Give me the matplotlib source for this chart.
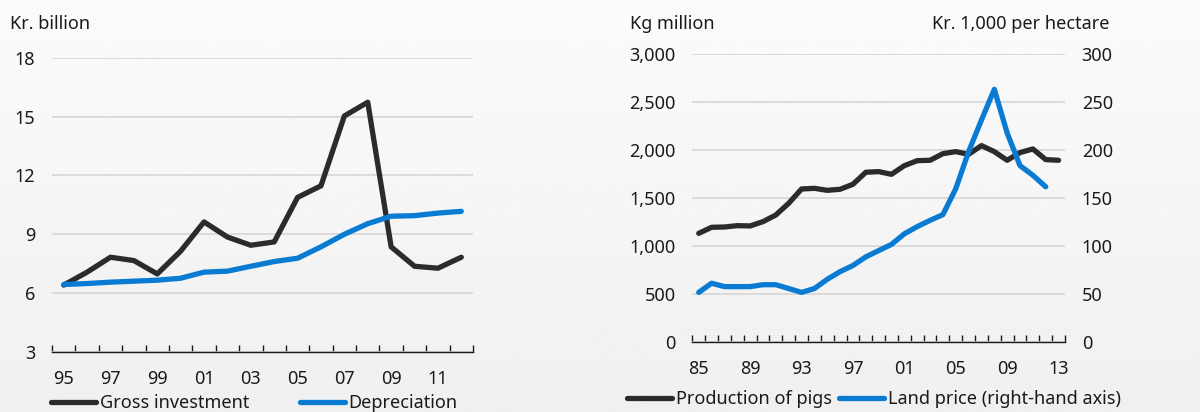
import numpy as np
import matplotlib.pyplot as plt

# data
years_left = list(range(1995, 2013))
gross_investment = [6.41, 7.07, 7.83, 7.66, 6.98, 8.14, 9.63, 8.86, 8.44, 8.61,
                    10.88, 11.47, 15.03, 15.73, 8.36, 7.37, 7.27, 7.83]
depreciation = [6.44, 6.49, 6.56, 6.61, 6.66, 6.76, 7.07, 7.12, 7.37, 7.61,
                7.78, 8.36, 9.0, 9.54, 9.92, 9.95, 10.08, 10.17]

years_right = list(range(1985, 2014))
pig_production = [1135, 1198, 1201, 1215, 1212, 1257, 1326, 1448, 1597, 1604,
                  1583, 1594, 1646, 1771, 1778, 1750, 1840, 1892, 1896, 1965,
                  1986, 1958, 2049, 1986, 1896, 1976, 2014, 1903, 1896]
land_price = [52, 61.5, 58, 58, 58, 60, 60, 56, 52, 56,
              65.6, 73.6, 80, 89, 95.5, 102, 113, 120.5, 127, 133,
              160, 198.6, 231.6, 263.5, 218, 184, 174, 162, np.nan]

plt.rcParams['font.family'] = ['Noto Sans', 'DejaVu Sans']
plt.rcParams['font.size'] = 13
plt.rcParams['text.color'] = '#1a1a1a'
plt.rcParams['xtick.color'] = '#1a1a1a'
plt.rcParams['ytick.color'] = '#1a1a1a'

BLACK = '#2b2b2b'
BLUE = '#0a7bd3'
GRID = '#d6d6d6'
LW = 3.8

fig = plt.figure(figsize=(12, 4.12), dpi=100)

# light grey gradient background
bg = fig.add_axes([0, 0, 1, 1], zorder=-10)
bg.imshow(np.linspace(0.985, 0.94, 200).reshape(-1, 1), cmap='gray',
          vmin=0, vmax=1, aspect='auto', extent=[0, 1, 0, 1])
bg.axis('off')


def style_x(ax, years, step):
    n = len(years)
    x = np.arange(n)
    ax.set_xlim(-0.5, n - 0.5)
    ax.set_xticks(x[::step])
    ax.set_xticklabels([f"{y % 100:02d}" for y in years[::step]])
    ax.set_xticks(np.arange(n + 1) - 0.5, minor=True)
    ax.tick_params(axis='x', which='major', length=0, pad=13)
    ax.tick_params(axis='x', which='minor', direction='in', length=5, width=1, color='#1a1a1a')
    for s in ['top', 'left', 'right']:
        ax.spines[s].set_visible(False)
    ax.spines['bottom'].set_color('#1a1a1a')
    ax.spines['bottom'].set_linewidth(1)
    ax.set_facecolor('none')
    ax.grid(axis='y', color=GRID, linewidth=1.2)
    ax.set_axisbelow(True)


# ---- left chart
ax1 = fig.add_axes([52 / 1200, 1 - 352 / 412, (473 - 52) / 1200, (352 - 57.7) / 412])
xl = np.arange(len(years_left))
ax1.plot(xl, gross_investment, color=BLACK, lw=LW, solid_capstyle='round',
         solid_joinstyle='round', label='Gross investment')
ax1.plot(xl, depreciation, color=BLUE, lw=LW, solid_capstyle='round',
         solid_joinstyle='round', label='Depreciation')
style_x(ax1, years_left, 2)
ax1.set_ylim(3, 18)
ax1.set_yticks(range(3, 19, 3))
ax1.tick_params(axis='y', length=0, pad=12)
fig.text(10 / 1200, 1 - 24 / 412, 'Kr. billion', va='center', ha='left')
fig.legend(*ax1.get_legend_handles_labels(), loc='center left',
           bbox_to_anchor=(51 / 1200, 1 - 403 / 412), ncol=2, frameon=False,
           borderpad=0, borderaxespad=0, handlelength=2.5, handletextpad=0.2,
           columnspacing=2.8)

# ---- right chart
ax2 = fig.add_axes([692.3 / 1200, 1 - 342.3 / 412, (1065 - 692.3) / 1200, (342.3 - 54.3) / 412])
xr = np.arange(len(years_right))
l1, = ax2.plot(xr, pig_production, color=BLACK, lw=LW, solid_capstyle='round',
               solid_joinstyle='round', label='Production of pigs')
style_x(ax2, years_right, 4)
ax2.set_ylim(0, 3000)
ax2.set_yticks(range(0, 3001, 500))
ax2.set_yticklabels([f"{v:,}" for v in range(0, 3001, 500)])
ax2.tick_params(axis='y', length=0, pad=12)

ax3 = ax2.twinx()
l2, = ax3.plot(xr, land_price, color=BLUE, lw=LW, solid_capstyle='round',
               solid_joinstyle='round', label='Land price (right-hand axis)')
ax3.set_ylim(0, 300)
ax3.set_yticks(range(0, 301, 50))
ax3.tick_params(axis='y', length=0, pad=12)
for s in ax3.spines.values():
    s.set_visible(False)

fig.text(630 / 1200, 1 - 24 / 412, 'Kg million', va='center', ha='left')
fig.text(1109 / 1200, 1 - 24 / 412, 'Kr. 1,000 per hectare', va='center', ha='right')
fig.legend([l1, l2], [l1.get_label(), l2.get_label()], loc='center left',
           bbox_to_anchor=(627 / 1200, 1 - 399 / 412), ncol=2, frameon=False,
           borderpad=0, borderaxespad=0, handlelength=2.5, handletextpad=0.2,
           columnspacing=0.4)

fig.savefig('out.png', dpi=100)
